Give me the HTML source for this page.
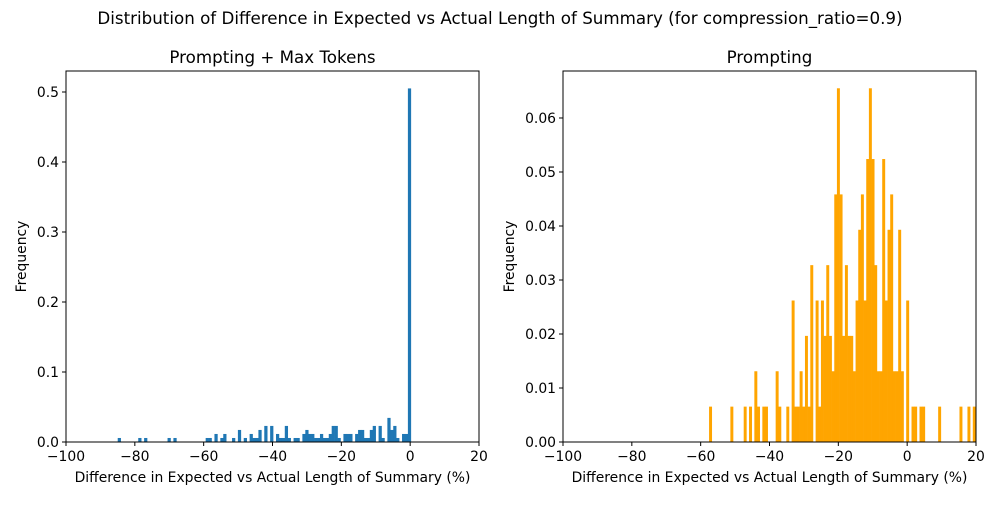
<!DOCTYPE html>
<html><head><meta charset="utf-8"><style>
body{margin:0;background:#fff;}
svg text{font-family:"DejaVu Sans","Liberation Sans",sans-serif;fill:#000;}
</style></head><body>
<svg id="c" width="1000" height="500" viewBox="0 0 1000 500">
<text x="500" y="24" font-size="16.7" text-anchor="middle">Distribution of Difference in Expected vs Actual Length of Summary (for compression_ratio=0.9)</text>
</svg>
<script>
// Left panel: bin counts (100 bins from -84.97, width 0.8516), frequency unit per count
const leftBinStart = -84.97;
const leftBinWidth = 0.8516;
const leftUnit = 0.00574;
const leftCountsSparse = [[0,1],[7,1],[9,1],[17,1],[19,1],[30,1],[31,1],[33,2],[35,1],[36,2],[39,1],[41,3],[43,1],[45,2],[46,1],[47,1],[48,3],[50,4],[52,4],[54,2],[55,1],[56,1],[57,4],[58,1],[60,1],[61,1],[63,2],[64,3],[65,2],[66,2],[67,1],[68,1],[69,2],[70,1],[71,1],[72,2],[73,4],[74,4],[75,1],[77,2],[78,2],[79,2],[81,2],[82,3],[83,3],[84,1],[85,1],[86,3],[87,4],[89,4],[90,1],[92,6],[93,3],[94,4],[95,1],[97,2],[98,2],[99,88]];
const leftYTicks = [0,0.1,0.2,0.3,0.4,0.5];
const xTicks = [-100,-80,-60,-40,-20,0,20];
// Right panel
const rightBinStart = -57.56;
const rightBinWidth = 0.774;
const rightUnit = 0.00655;
const rightCountsSparse = [[0,1],[8,1],[13,1],[15,1],[17,2],[18,1],[20,1],[21,1],[25,2],[26,1],[29,1],[31,4],[32,1],[33,1],[34,2],[35,1],[36,3],[37,1],[38,5],[40,4],[41,1],[42,4],[43,3],[44,5],[45,3],[46,2],[47,7],[48,10],[49,7],[50,3],[51,5],[52,3],[53,3],[54,2],[55,4],[56,6],[57,7],[58,4],[59,8],[60,10],[61,8],[62,5],[63,2],[64,2],[65,8],[66,4],[67,6],[68,7],[69,2],[70,2],[71,6],[72,2],[74,4],[76,1],[77,1],[79,1],[80,1],[86,1],[94,1],[97,1],[99,1]];
const rightYTicks = [0,0.01,0.02,0.03,0.04,0.05,0.06];

const NS="http://www.w3.org/2000/svg";
const svg=document.getElementById('c');
function mk(tag,attrs,parent){const e=document.createElementNS(NS,tag);for(const k in attrs)e.setAttribute(k,attrs[k]);(parent||svg).appendChild(e);return e;}

function panel(p){
  const g=mk('g',{});
  
  
  const X=v=>p.x0+(v-(-100))/(120)*(p.x1-p.x0);
  const Y=v=>p.y1-v/p.ymax*(p.y1-p.y0);
  p.counts.forEach(([i,c])=>{
    const a=p.bs+i*p.bw, b=a+p.bw, f=c*p.unit;
    const r=mk('rect',{x:X(a),y:Y(f),width:X(b)-X(a)+0.3,height:Y(0)-Y(f),fill:p.color},g);
    
    
  });
  const fr=mk('rect',{x:p.x0,y:p.y0,width:p.x1-p.x0,height:p.y1-p.y0,fill:'none',stroke:'#000','stroke-width':1},g);
  
  
  xTicks.forEach(t=>{
    const x=X(t);
    mk('line',{x1:x,x2:x,y1:p.y1,y2:p.y1+4,stroke:'#000'},g);
    const tx=mk('text',{x:x,y:p.y1+19,'font-size':13.9,'text-anchor':'middle'},g);
    tx.textContent=(t<0?'\u2212'+(-t):t);
    
    
  });
  p.yt.forEach(t=>{
    const y=Y(t);
    mk('line',{x1:p.x0-4,x2:p.x0,y1:y,y2:y,stroke:'#000'},g);
    const tx=mk('text',{x:p.x0-7,y:y+5,'font-size':13.9,'text-anchor':'end'},g);
    tx.textContent=t.toFixed(p.dec);
    
    
  });
  const ti=mk('text',{x:(p.x0+p.x1)/2,y:p.y0-8,'font-size':16.7,'text-anchor':'middle'},g);
  ti.textContent=p.title;
  
  
  const xl=mk('text',{x:(p.x0+p.x1)/2,y:482,'font-size':13.9,'text-anchor':'middle'},g);
  xl.textContent='Difference in Expected vs Actual Length of Summary (%)';
  
  
  const yl=mk('text',{x:0,y:0,'font-size':13.9,'text-anchor':'middle',transform:`translate(${p.ylx},${(p.y0+p.y1)/2}) rotate(-90)`},g);
  yl.textContent='Frequency';
  
  
}
panel({name:'left-panel',x0:66,x1:479,y0:71,y1:442,ymax:0.53,counts:leftCountsSparse,bs:leftBinStart,bw:leftBinWidth,unit:leftUnit,color:'#1f77b4',yt:leftYTicks,dec:1,title:'Prompting + Max Tokens',ylx:26});
panel({name:'right-panel',x0:563,x1:976,y0:71,y1:442,ymax:0.0687,counts:rightCountsSparse,bs:rightBinStart,bw:rightBinWidth,unit:rightUnit,color:'#ffa500',yt:rightYTicks,dec:2,title:'Prompting',ylx:514});
</script>
</body></html>
